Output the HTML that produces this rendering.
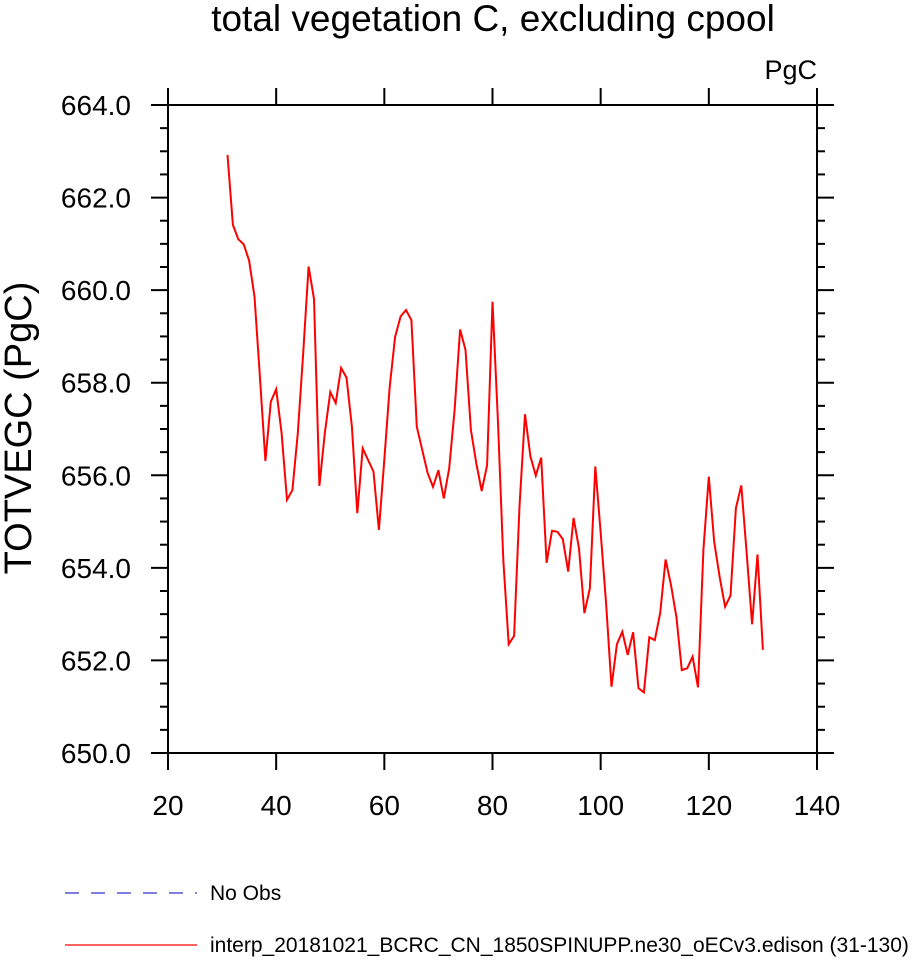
<!DOCTYPE html>
<html><head><meta charset="utf-8"><style>
body{margin:0;background:#fff;}
svg text{font-family:"Liberation Sans",Helvetica,Arial,sans-serif;fill:#000;}
</style></head><body>
<svg width="914" height="958" viewBox="0 0 914 958">
<text x="493" y="31" font-size="37" text-anchor="middle">total vegetation C, excluding cpool</text>
<text x="817" y="79" font-size="27" text-anchor="end">PgC</text>
<text transform="translate(31,428) rotate(-90)" font-size="38" text-anchor="middle">TOTVEGC  (PgC)</text>
<g id="axes"></g>
<polyline id="series" fill="none" stroke="#ff0000" stroke-width="2"/>
<rect x="168" y="105" width="649" height="648" fill="none" stroke="#000" stroke-width="2"/>
<g>
<line x1="65" y1="893" x2="197" y2="893" stroke="#3333cc" stroke-width="1.2" stroke-dasharray="14,12"/>
<text x="210" y="900" font-size="21">No Obs</text>
<line x1="65" y1="945" x2="197" y2="945" stroke="#ff0000" stroke-width="1.2"/>
<text x="210" y="952" font-size="21">interp_20181021_BCRC_CN_1850SPINUPP.ne30_oECv3.edison (31-130)</text>
</g>
</svg>
<script>
const xStart = 31;
const values = [662.92,661.41,661.10,660.99,660.64,659.86,658.13,656.31,657.59,657.86,
656.91,655.47,655.68,656.91,658.64,660.51,659.81,655.77,656.91,657.80,
657.56,658.32,658.11,657.05,655.18,656.58,656.33,656.08,654.82,656.33,
657.91,658.99,659.43,659.57,659.35,657.05,656.55,656.05,655.75,656.11,
655.50,656.15,657.41,659.15,658.71,656.98,656.26,655.66,656.22,659.75,
657.19,654.17,652.35,652.53,655.33,657.32,656.41,655.99,656.38,654.11,
654.80,654.78,654.62,653.92,655.08,654.42,653.02,653.56,656.19,654.75,
653.23,651.43,652.35,652.62,652.12,652.61,651.40,651.31,652.50,652.44,
653.03,654.18,653.63,652.94,651.79,651.83,652.08,651.42,654.39,655.97,
654.56,653.81,653.16,653.40,655.29,655.78,654.31,652.78,654.29,652.23];
const xTicks = [20,40,60,80,100,120,140];
const yTicks = [650,652,654,656,658,660,662,664];
const X0=168,X1=817,Y0=753,Y1=105;
const xs=v=>X0+(v-20)/120*(X1-X0);
const ys=v=>Y0-(v-650)/14*(Y0-Y1);
const NS="http://www.w3.org/2000/svg";
const g=document.getElementById('axes');
function ln(x1,y1,x2,y2,name){const l=document.createElementNS(NS,'line');
l.setAttribute('x1',x1);l.setAttribute('y1',y1);l.setAttribute('x2',x2);l.setAttribute('y2',y2);
l.setAttribute('stroke','#000');l.setAttribute('stroke-width','2');


g.appendChild(l);}
function tx(x,y,s,anchor,name){const t=document.createElementNS(NS,'text');
t.setAttribute('x',x);t.setAttribute('y',y);t.setAttribute('font-size','28');t.setAttribute('text-anchor',anchor);t.textContent=s;


g.appendChild(t);}
xTicks.forEach(v=>{const x=xs(v);ln(x,Y0,x,Y0+17,'x-tick');ln(x,Y1,x,Y1-17,'x-tick-top');tx(x,Y0+62,String(v),'middle','x-tick-label');});
yTicks.forEach(v=>{const y=ys(v);ln(X0-17,y,X0,y,'y-tick');ln(X1,y,X1+17,y,'y-tick-right');tx(X0-37,y+10,v.toFixed(1),'end','y-tick-label');});
for(let v=650;v<664;v+=2){for(let k=1;k<4;k++){const y=ys(v+k*0.5);ln(X0-8,y,X0,y,'y-minor-tick');ln(X1,y,X1+8,y,'y-minor-tick-right');}}
document.getElementById('series').setAttribute('points',values.map((v,i)=>xs(xStart+i).toFixed(1)+','+ys(v).toFixed(1)).join(' '));
</script>
</body></html>
